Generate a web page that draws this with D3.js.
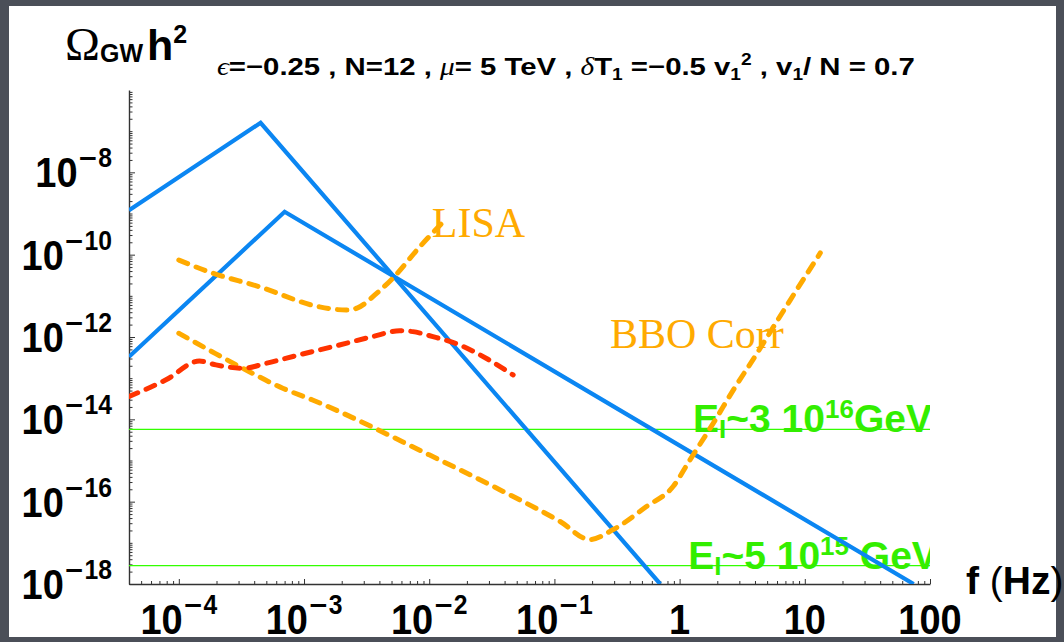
<!DOCTYPE html>
<html><head><meta charset="utf-8">
<script src="https://cdn.jsdelivr.net/npm/d3@7"></script>
<style>body{margin:0;background:#4b4f58;overflow:hidden}</style>
</head><body>
<svg id="c" width="1064" height="642"></svg>
<script>
// ---------- data ----------
const xDomain = [4e-5, 100];
const yDomain = [1e-18, 1e-6];
const xTickExps = [-4, -3, -2, -1, 0, 1, 2];
const xTickLabels = ["10|−4", "10|−3", "10|−2", "10|−1", "1", "10", "100"];
const yTickExps = [-8, -10, -12, -14, -16, -18];
const yTickLabels = ["10|−8", "10|−10", "10|−12", "10|−14", "10|−16", "10|−18"];

const blueUpper = [[4e-5, 1.2e-9], [4.5e-4, 1.6e-7], [0.7, 1e-18]];
const blueLower = [[4e-5, 3.3e-13], [7e-4, 1.1e-9], [74, 1e-18]];
const lisa = [[1e-4, 7.4e-11], [1.75e-4, 3.8e-11], [4.4e-4, 1.66e-11], [1.33e-3, 5.4e-12],
  [2.18e-3, 4.5e-12], [2.68e-3, 5.1e-12], [3.8e-3, 1.15e-11], [5.1e-3, 2.65e-11],
  [8.4e-3, 1.55e-10], [1.29e-2, 6.2e-10]];
const red = [[4e-5, 3.6e-14], [7.9e-5, 9.1e-14], [1.46e-4, 2.6e-13], [1.98e-4, 2.1e-13],
  [3.24e-4, 1.74e-13], [5e-4, 2.3e-13], [9.2e-4, 3.7e-13], [1.92e-3, 6.4e-13],
  [3.55e-3, 1.03e-12], [5.8e-3, 1.42e-12], [7.4e-3, 1.35e-12], [1.07e-2, 1.02e-12],
  [1.75e-2, 6.4e-13], [2.87e-2, 3.0e-13], [4.68e-2, 1.2e-13]];
const bbo = [[1e-4, 1.23e-12], [1.75e-4, 4.8e-13], [3.24e-4, 1.74e-13], [6.76e-4, 5.7e-14],
  [1.17e-3, 2.95e-14], [1.0e-2, 1.37e-15], [3.66e-2, 1.95e-16], [0.111, 3.3e-17],
  [0.192, 1.2e-17], [0.295, 2.1e-17], [0.547, 7.7e-17], [0.89, 2.36e-16], [1.21, 1.04e-15],
  [1.86, 8.1e-15], [2.69, 5.2e-14], [4.15, 4.0e-13], [5.63, 1.78e-12], [7.65, 7.9e-12],
  [13.3, 1.1e-10]];
const greenLevels = [5.7e-15, 2.8e-18];
const greenLabels = [
  {main: "E", sub: "I", mid: "~3 10", sup: "16", tail: "GeV", f: 1.28},
  {main: "E", sub: "I", mid: "~5 10", sup: "15", tail: " GeV", f: 1.17}
];
const curveLabels = [{text: "LISA", f: 1.05e-2, v: 2.65e-10}, {text: "BBO Corr", f: 0.278, v: 5.4e-13}];

// ---------- setup ----------
const svg = d3.select("#c");
svg.append("rect").attr("width", 1064).attr("height", 642).attr("fill", "#4b4f58");
svg.append("rect").attr("x", 9).attr("y", 6).attr("width", 1047).attr("height", 631).attr("fill", "#ffffff");

const x = d3.scaleLog().domain(xDomain).range([129, 930]);
const y = d3.scaleLog().domain(yDomain).range([584, 90]);
const SANS = "'Liberation Sans', Arial, sans-serif";
const SERIF = "'Liberation Serif', 'Times New Roman', serif";

svg.append("defs").append("clipPath").attr("id", "clip")
  .append("rect").attr("x", x.range()[0]).attr("y", y.range()[1])
  .attr("width", x.range()[1] - x.range()[0]).attr("height", y.range()[0] - y.range()[1]);

// ---------- axes ----------
const xMinor = [];
for (let d = -5; d <= 1; d++) for (let k = 2; k <= 9; k++) {
  const v = k * Math.pow(10, d); if (v >= xDomain[0] && v <= xDomain[1]) xMinor.push(v);
}
const xMajor = xTickExps.map(e => Math.pow(10, e));
const yMinor = [];
for (let d = -18; d <= -7; d++) for (let k = 2; k <= 9; k++) yMinor.push(k * Math.pow(10, d));
for (let d = -17; d <= -7; d += 2) yMinor.push(Math.pow(10, d));
const yMajor = yTickExps.map(e => Math.pow(10, e));

function styleAxis(g) {
  g.selectAll("line").attr("stroke", "#333").attr("stroke-width", 1);
  g.selectAll(".domain").attr("stroke", "#333").attr("stroke-width", 1.4);
}
const y0 = y(yDomain[0]);
svg.append("g").attr("transform", `translate(0,${y0})`)
  .call(d3.axisBottom(x).tickValues(xMinor).tickSizeInner(-3).tickSizeOuter(0).tickFormat(""))
  .call(styleAxis);
svg.append("g").attr("transform", `translate(0,${y0})`)
  .call(d3.axisBottom(x).tickValues(xMajor).tickSizeInner(-5).tickSizeOuter(0).tickFormat(""))
  .call(g => g.select(".domain").remove()).call(styleAxis);
const x0 = x(xDomain[0]);
svg.append("g").attr("transform", `translate(${x0},0)`)
  .call(d3.axisLeft(y).tickValues(yMinor).tickSizeInner(-3.5).tickSizeOuter(0).tickFormat(""))
  .call(styleAxis);
svg.append("g").attr("transform", `translate(${x0},0)`)
  .call(d3.axisLeft(y).tickValues(yMajor).tickSizeInner(-6).tickSizeOuter(0).tickFormat(""))
  .call(g => g.select(".domain").remove()).call(styleAxis);

// tick labels
function sciText(sel, label, fs, supFs, supDy) {
  const parts = label.split("|");
  const t = sel.append("text").attr("font-family", SANS).attr("font-weight", "bold")
    .attr("font-size", fs).attr("fill", "#000");
  t.append("tspan").text(parts[0]);
  if (parts.length > 1) {
    const s = parts[1];
    t.append("tspan").attr("dy", supDy).attr("font-size", supFs)
      .attr("font-family", "'DejaVu Sans', sans-serif").text(s[0]);
    t.append("tspan").attr("font-size", supFs).text(s.slice(1));
  }
  return t;
}
yTickExps.forEach((e, i) => {
  const g = svg.append("g").attr("transform", `translate(112,${y(Math.pow(10, e)) + 15}) scale(0.95,1.05)`);
  sciText(g, yTickLabels[i], 40, 26, -19).attr("text-anchor", "end");
});
xTickExps.forEach((e, i) => {
  const g = svg.append("g").attr("transform", `translate(${x(Math.pow(10, e))},634) scale(0.95,1.05)`);
  sciText(g, xTickLabels[i], 40, 26, -19).attr("text-anchor", "middle");
});

// ---------- curves ----------
const plot = svg.append("g").attr("clip-path", "url(#clip)");
const line = d3.line().x(d => x(d[0])).y(d => y(d[1]));
const smooth = d3.line().x(d => x(d[0])).y(d => y(d[1])).curve(d3.curveMonotoneX);

greenLevels.forEach(v => {
  plot.append("line").attr("x1", x(xDomain[0])).attr("x2", x(xDomain[1]))
    .attr("y1", y(v)).attr("y2", y(v)).attr("stroke", "#33ff00").attr("stroke-width", 1.2);
});

// green labels (under the curves)
greenLabels.forEach((L, i) => {
  const base = y(greenLevels[i]) + 3;
  const t = plot.append("text").attr("x", x(L.f)).attr("y", base)
    .attr("font-family", SANS).attr("font-weight", "bold").attr("font-size", 39).attr("fill", "#33ee00");
  t.append("tspan").text(L.main);
  t.append("tspan").attr("dy", 6).attr("font-size", 26).text(L.sub);
  t.append("tspan").attr("dy", -6).text(L.mid);
  t.append("tspan").attr("dy", -14).attr("font-size", 26).text(L.sup);
  t.append("tspan").attr("dy", 14).text(L.tail);
});

// curve labels
curveLabels.forEach(L => {
  svg.append("text").attr("x", x(L.f)).attr("y", y(L.v))
    .attr("font-family", SERIF).attr("font-size", 42).attr("fill", "#ffaa00").text(L.text);
});

[blueUpper, blueLower].forEach(d => {
  plot.append("path").datum(d).attr("d", line).attr("fill", "none")
    .attr("stroke", "#0b86f2").attr("stroke-width", 4.2).attr("stroke-linejoin", "miter");
});
[[lisa, "#ffaa00"], [bbo, "#ffaa00"], [red, "#ff3300"]].forEach(([d, c]) => {
  plot.append("path").datum(d).attr("d", smooth).attr("fill", "none")
    .attr("stroke", c).attr("stroke-width", 5).attr("stroke-linecap", "round")
    .attr("stroke-dasharray", "9.5,9");
});

// ---------- titles ----------
const tt = svg.append("text").attr("x", 65).attr("y", 60).attr("fill", "#000");
tt.append("tspan").attr("font-family", SERIF).attr("font-size", 47).text("Ω");
tt.append("tspan").attr("font-family", SANS).attr("font-weight", "bold").attr("font-size", 25)
  .attr("dy", 2).text("GW");
tt.append("tspan").attr("x", 147).attr("dy", -2).attr("font-family", SANS).attr("font-weight", "bold")
  .attr("font-size", 43).text("h");
tt.append("tspan").attr("dy", -17).attr("font-family", SANS).attr("font-weight", "bold")
  .attr("font-size", 25).text("2");

// subtitle
const subG = svg.append("g");
const st = subG.append("text").attr("x", 0).attr("y", 0).attr("font-family", SANS)
  .attr("font-weight", "bold").attr("font-size", 23).attr("fill", "#000");
const parts = [
  ["ϵ", "g"], ["=−0.25  , N=12 ,  ", "b"], ["μ", "g"], ["= 5 TeV , ", "b"], ["δ", "g"],
  ["T", "b"], ["1", "sub"], [" =−0.5  v", "b"], ["1", "sub"], ["2", "sup"], ["  , v", "b"],
  ["1", "sub"], ["/ N = 0.7", "b"]
];
let cur = 0;
parts.forEach(([s, k]) => {
  const ts = st.append("tspan").text(s);
  let target = 0;
  if (k === "g") ts.attr("font-family", SERIF).attr("font-style", "italic").attr("font-weight", "normal");
  if (k === "sub") { ts.attr("font-size", 15); target = 5; }
  if (k === "sup") { ts.attr("font-size", 15); target = -10; }
  ts.attr("dy", target - cur); cur = target;
});
const w = st.node().getComputedTextLength();
subG.attr("transform", `translate(217,75) scale(${698 / w},1.05)`);

// x axis title
const xt = svg.append("text").attr("x", 966).attr("y", 594).attr("font-family", SANS)
  .attr("font-size", 39).attr("fill", "#000");
xt.append("tspan").attr("font-weight", "bold").text("f ");
xt.append("tspan").text("(");
xt.append("tspan").attr("font-weight", "bold").text("Hz");
xt.append("tspan").text(")");
</script>
</body></html>
